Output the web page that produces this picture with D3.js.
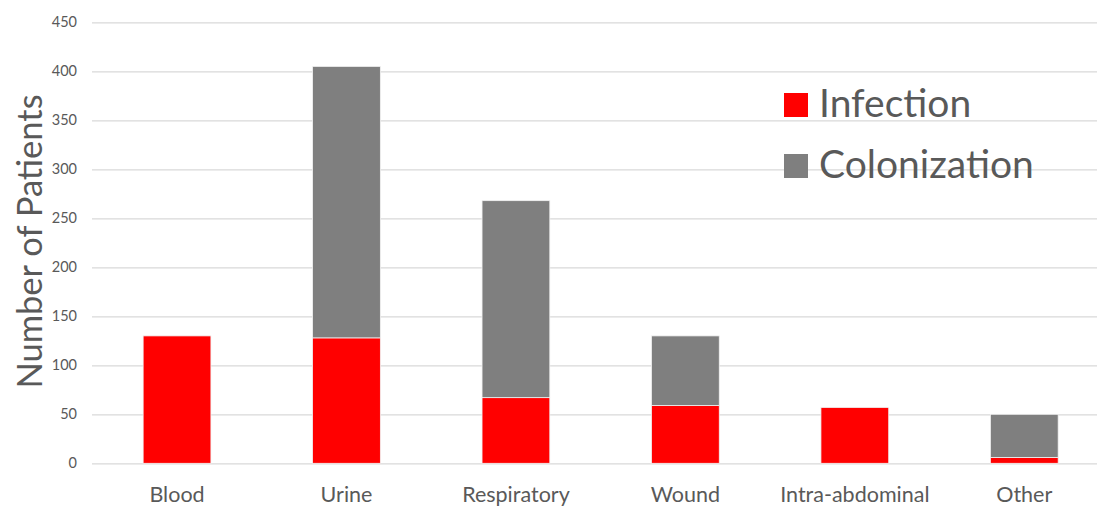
<!DOCTYPE html>
<html><head><meta charset="utf-8">
<script src="https://cdn.jsdelivr.net/npm/d3@7"></script>
<style>body{margin:0;background:#fff}svg{display:block}</style>
</head><body>
<script>
const categories = ["Blood","Urine","Respiratory","Wound","Intra-abdominal","Other"];
const infection = [130,128,67,59,57,6];
const colonization = [0,277,201,71,0,44];
const seriesNames = ["Infection","Colonization"];
const yTicks = [0,50,100,150,200,250,300,350,400,450];

const W=1097,H=508;
const colors={Infection:"#ff0000",Colonization:"#7f7f7f"};
const font="Lato, 'Open Sans', sans-serif";
const textCol="#595959";

const svg=d3.select("body").append("svg").attr("width",W).attr("height",H);
const x=d3.scaleBand().domain(categories).range([92.3,1109]).paddingInner(0.6).paddingOuter(0.3);
const y=d3.scaleLinear().domain([0,450]).range([463.3,22.3]);

const data=categories.map((c,i)=>({cat:c,Infection:infection[i],Colonization:colonization[i]}));
const stack=d3.stack().keys(seriesNames)(data);

// gridlines
const yAxis=d3.axisLeft(y).tickValues(yTicks).tickSize(-(W-92)).tickPadding(15);
const ga=svg.append("g").attr("transform","translate(92,0)").call(yAxis);
ga.select(".domain").remove();
ga.selectAll(".tick line").attr("stroke","#d9d9d9").attr("stroke-width",1.2);
ga.selectAll(".tick text").attr("fill",textCol).style("font-family",font).style("font-size","14.5px");

svg.append("g").selectAll("g").data(stack).join("g").attr("fill",d=>colors[d.key])
 .selectAll("rect").data(d=>d.filter(v=>v[1]-v[0]>0)).join("rect")
 .attr("x",d=>x(d.data.cat)).attr("width",x.bandwidth())
 .attr("y",d=>y(d[1])).attr("height",d=>y(d[0])-y(d[1]))
 .attr("stroke","#f2f2f2").attr("stroke-width",0.8);

const xAxis=d3.axisBottom(x).tickSize(0).tickPadding(38.7);
const gx=svg.append("g").attr("transform","translate(0,463.3)").call(xAxis);
gx.select(".domain").remove();
gx.selectAll("text").attr("dy","0").attr("fill",textCol).style("font-family",font).style("font-size","21.5px");

svg.append("text").attr("transform","translate(42,241.5) rotate(-90)").attr("text-anchor","middle")
 .attr("fill",textCol).style("font-family",font).style("font-size","34.5px").text("Number of Patients");

const leg=svg.append("g");
seriesNames.forEach((s,i)=>{
  const gy=93+i*61;
  leg.append("rect").attr("x",784).attr("y",gy).attr("width",24).attr("height",24).attr("fill",colors[s]);
  leg.append("text").attr("x",819).attr("y",gy+24).attr("fill",textCol)
   .style("font-family",font).style("font-size","39px").text(s);
});
</script>
</body></html>
